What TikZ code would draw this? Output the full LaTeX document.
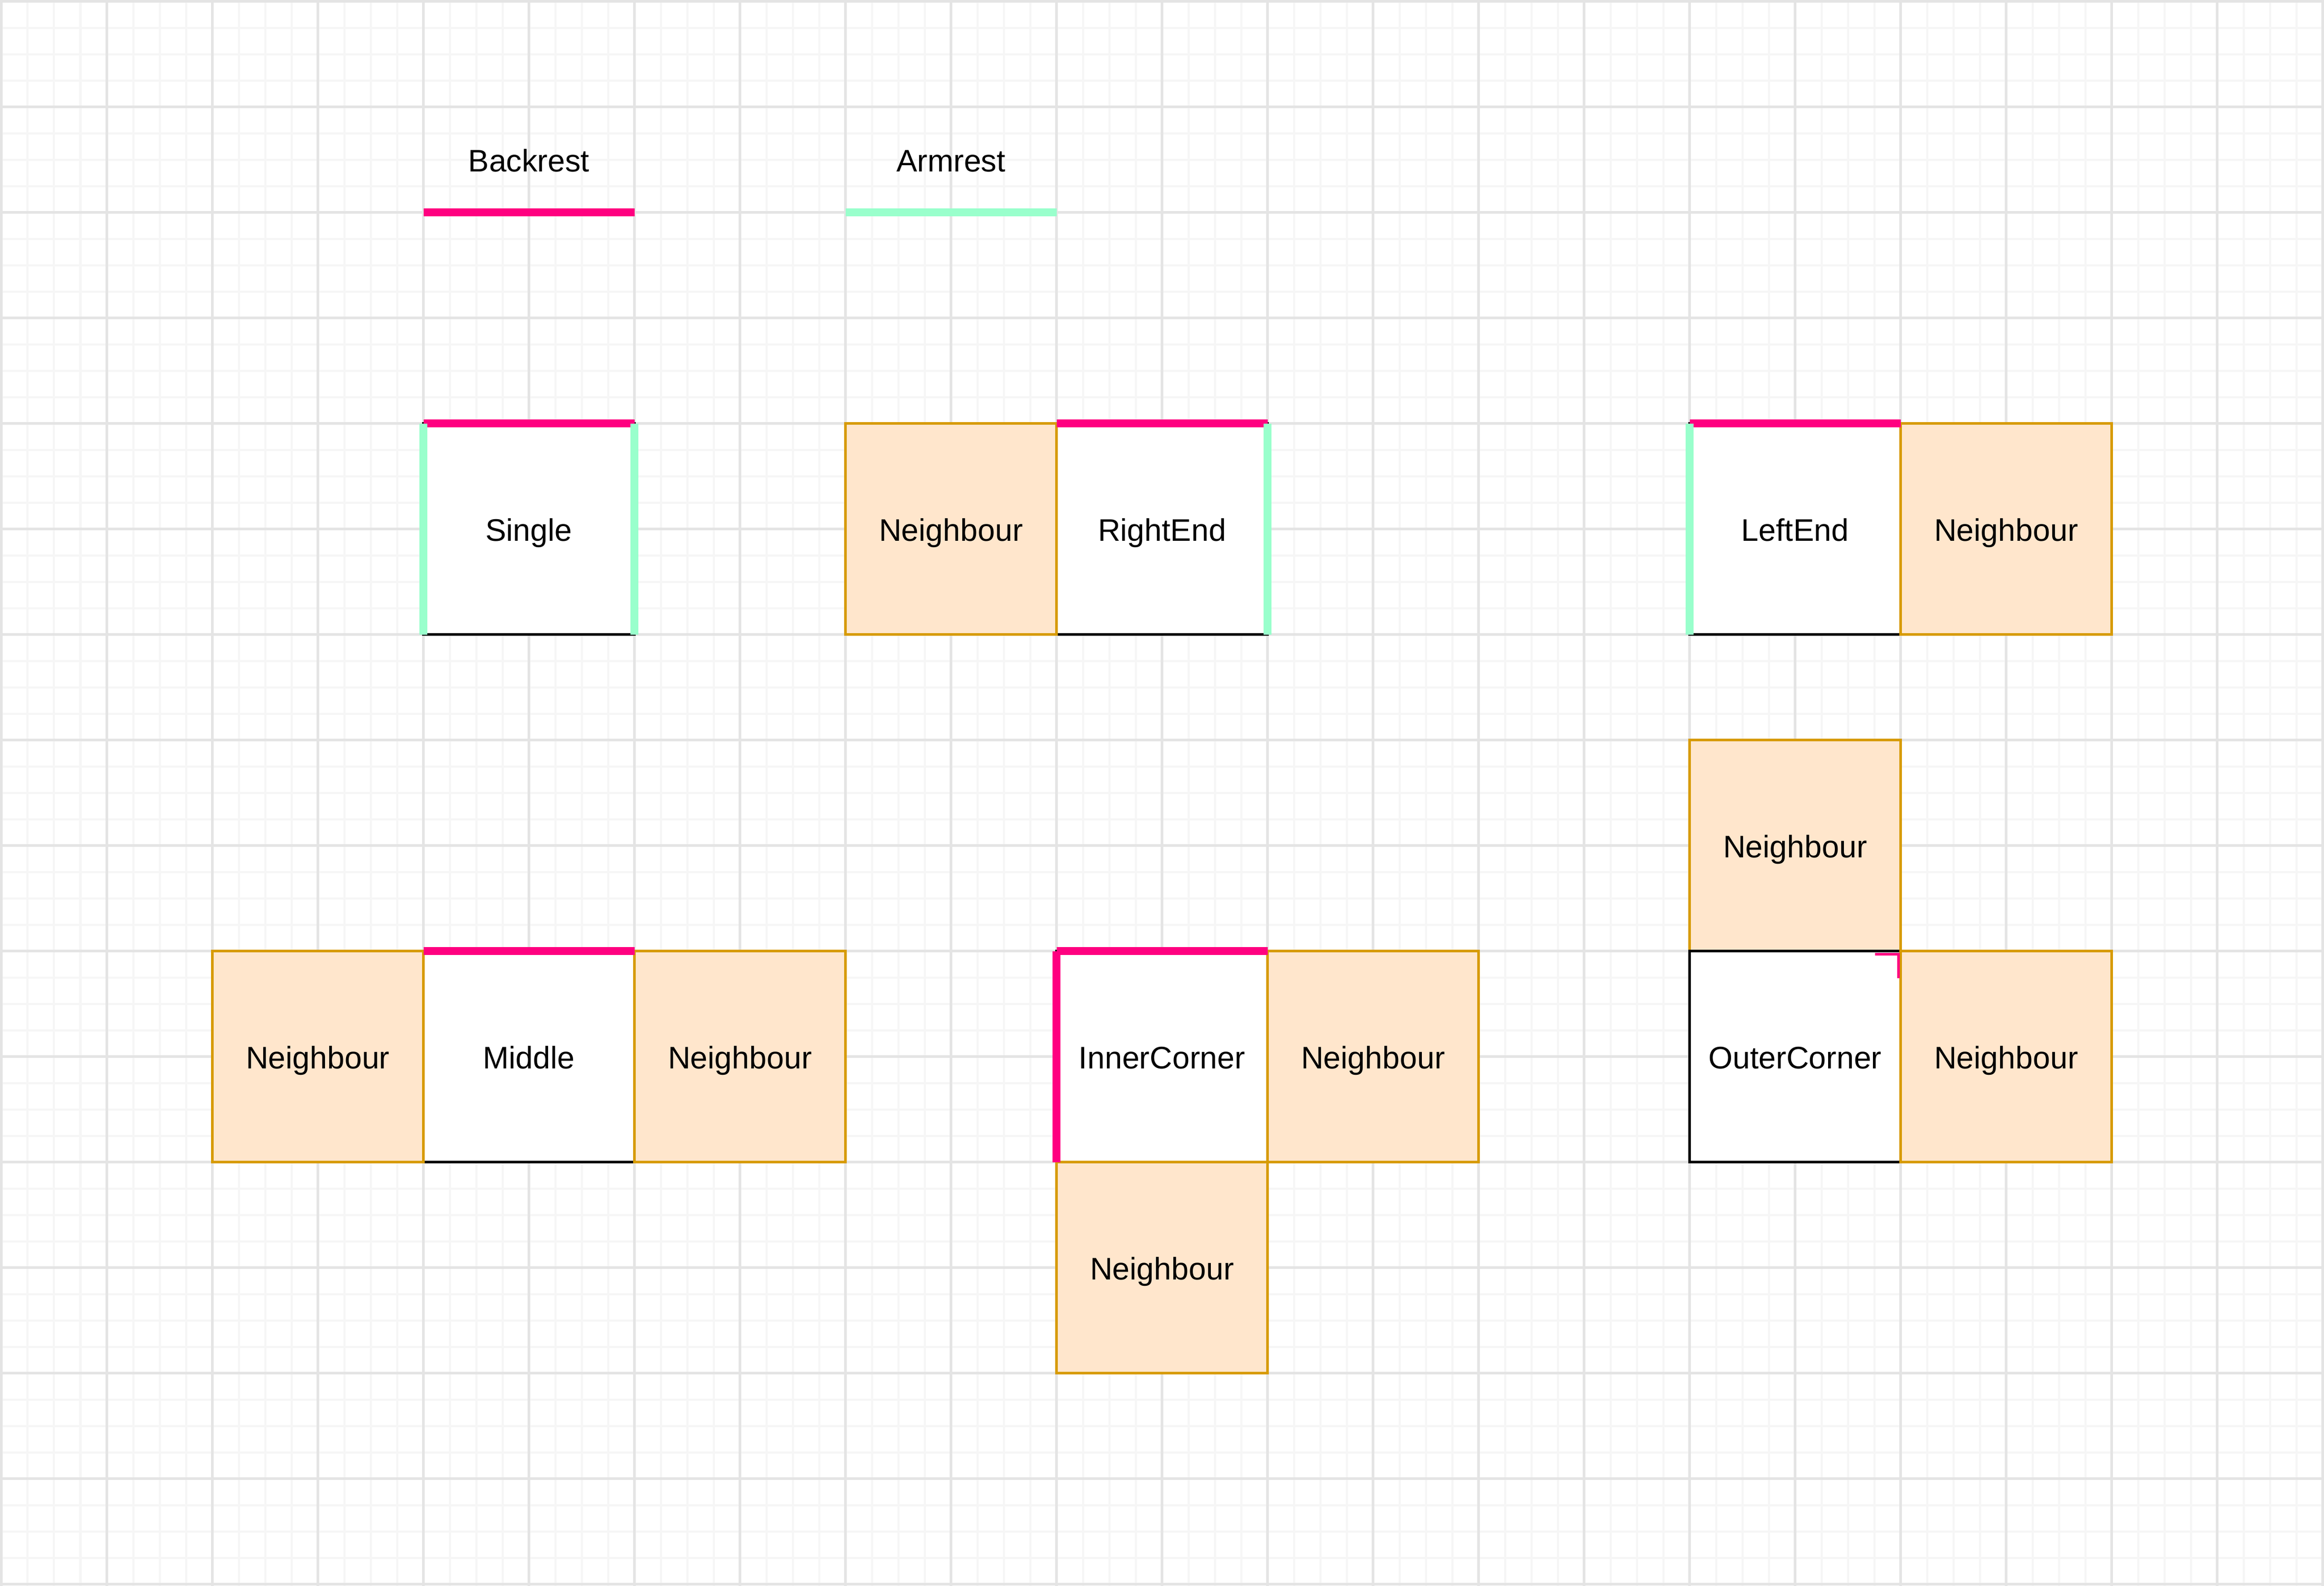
\documentclass[tikz,border=0pt]{standalone}
\usepackage{fontspec}
\setmainfont{Liberation Sans}
\definecolor{bpink}{HTML}{FF0080}
\definecolor{agreen}{HTML}{99FFCC}
\definecolor{nfill}{HTML}{FFE6CC}
\definecolor{nstroke}{HTML}{D79B00}
\definecolor{gmajor}{HTML}{E4E4E4}
\definecolor{gminor}{HTML}{F6F6F6}
\tikzset{
  txt/.style={font=\fontsize{8.4}{10}\selectfont, text height=6.6pt, text depth=0pt},
  seat/.style={txt, draw=black, fill=white, line width=0.6pt, minimum width=2cm, minimum height=2cm, inner sep=0pt, outer sep=0pt},
  nbr/.style={seat, draw=nstroke, fill=nfill},
  lbl/.style={txt, inner sep=0pt},
  back/.style={draw=bpink, line width=0.075cm},
  arm/.style={draw=agreen, line width=0.075cm},
  cornermark/.style={draw=bpink, line width=0.025cm, line join=miter},
  minorgrid/.style={draw=gminor, line width=0.02cm},
  majorgrid/.style={draw=gmajor, line width=0.025cm},
}
\begin{document}
\begin{tikzpicture}[x=1cm,y=-1cm]
\useasboundingbox (-0.0125,-0.0125) rectangle (22.0125,15.0125);
\clip (-0.0125,-0.0125) rectangle (22.0125,15.0125);
\fill[white] (-0.0125,-0.0125) rectangle (22.0125,15.0125);
% grid
\foreach \i in {0,...,88} \draw[minorgrid] (\i*0.25,-0.1) -- (\i*0.25,15.1);
\foreach \j in {0,...,60} \draw[minorgrid] (-0.1,\j*0.25) -- (22.1,\j*0.25);
\foreach \i in {0,...,22} \draw[majorgrid] (\i,-0.1) -- (\i,15.1);
\foreach \j in {0,...,15} \draw[majorgrid] (-0.1,\j) -- (22.1,\j);

% legend
\node[lbl] (backlbl) at (5,1.5) {Backrest};
\coordinate (b1) at (4,2);
\coordinate (b2) at (6,2);
\draw[back] (b1) -- (b2);
\node[lbl] (armlbl) at (9,1.5) {Armrest};
\coordinate (a1) at (8,2);
\coordinate (a2) at (10,2);
\draw[arm] (a1) -- (a2);

% seats
\node[seat] (single) at (5,5) {Single};
\node[seat] (rightend) at (11,5) {RightEnd};
\node[nbr] (n1) at (9,5) {Neighbour};
\node[seat] (leftend) at (17,5) {LeftEnd};
\node[nbr] (n2) at (19,5) {Neighbour};
\node[nbr] (n3) at (17,8) {Neighbour};
\node[seat] (middle) at (5,10) {Middle};
\node[nbr] (n4) at (3,10) {Neighbour};
\node[nbr] (n5) at (7,10) {Neighbour};
\node[seat] (inner) at (11,10) {InnerCorner};
\node[nbr] (n6) at (13,10) {Neighbour};
\node[nbr] (n7) at (11,12) {Neighbour};
\node[seat] (outer) at (17,10) {OuterCorner};
\node[nbr] (n8) at (19,10) {Neighbour};

% backrests and armrests
\draw[back] (single.north west) -- (single.north east);
\draw[arm] (single.north west) -- (single.south west);
\draw[arm] (single.north east) -- (single.south east);

\draw[back] (rightend.north west) -- (rightend.north east);
\draw[arm] (rightend.north east) -- (rightend.south east);

\draw[back] (leftend.north west) -- (leftend.north east);
\draw[arm] (leftend.north west) -- (leftend.south west);

\draw[back] (middle.north west) -- (middle.north east);

\draw[back] (inner.north west) -- (inner.north east);
\draw[back] (inner.north west) -- (inner.south west);

\draw[cornermark] ([shift={(-0.245,0.0275)}]outer.north east) -- ([shift={(-0.0225,0.0275)}]outer.north east) -- ([shift={(-0.0225,0.255)}]outer.north east);
\end{tikzpicture}
\end{document}
